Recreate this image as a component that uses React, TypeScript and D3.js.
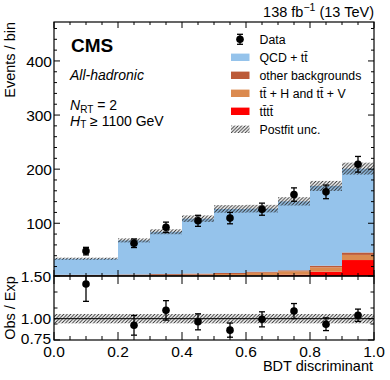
import React from 'react';
import * as d3 from 'd3';

// bin layout (variable width first bin)
const binEdges = [0, 0.2, 0.3, 0.4, 0.5, 0.6, 0.7, 0.8, 0.9, 1.0];
const dataX = [0.1, 0.25, 0.35, 0.45, 0.55, 0.65, 0.75, 0.85, 0.95];

// observed events and their errors
const dataCounts = [48.5, 63, 92.5, 104.5, 109.5, 126, 153, 158, 209];
const dataErrors = [7.0, 7.9, 9.6, 10.2, 10.5, 11.2, 12.4, 12.6, 14.5];

// postfit stack components
const qcdTT = [29.8, 63.0, 78.3, 101.5, 118.4, 116.5, 127.5, 147.5, 155];
const otherBkg = [1.4, 1.5, 1.6, 1.8, 1.9, 1.9, 1.8, 3.0, 4.5];
const ttHV = [3.0, 3.4, 3.8, 4.3, 4.8, 5.6, 6.3, 8.0, 9.5];
const tttt = [0.3, 0.4, 0.6, 0.9, 1.4, 3.0, 4.9, 10.5, 32];
const postfitUnc = [1.9, 3.7, 4.6, 6.0, 7.0, 7.0, 7.7, 9.3, 11];

const xTicks = [0, 0.2, 0.4, 0.6, 0.8, 1.0];
const yTicksMain = [100, 200, 300, 400];
const yTicksRatio = [0.75, 1.0, 1.5];
const yMinorRatio = [0.9375, 1.125, 1.3125];

const legendItems = [
  { key: 'data', label: 'Data' },
  { key: 'qcd', label: 'QCD + tt\u0304', color: '#95c3eb' },
  { key: 'other', label: 'other backgrounds', color: '#bc5a38' },
  { key: 'tthv', label: 'tt\u0304 + H and tt\u0304 + V', color: '#db8a4f' },
  { key: 'tttt', label: 'tt\u0304tt\u0304', color: '#ff0000' },
  { key: 'unc', label: 'Postfit unc.' },
];

const FONT = "'Liberation Sans', Arial, Helvetica, sans-serif";
const W = 390, H = 380;
const L = 54, R = 374;
const mainTop = 22, mainBottom = 276, ratioBottom = 340;

export default function App() {
  const x = d3.scaleLinear().domain([0, 1]).range([L, R]);
  const y = d3.scaleLinear().domain([2.5, 472]).range([mainBottom, mainTop]);
  const yr = d3.scaleLinear().domain([0.75, 1.5]).range([ratioBottom, mainBottom]);

  const colors: Record<string, string> = {
    tttt: '#ff0000', tthv: '#db8a4f', other: '#bc5a38', qcd: '#95c3eb',
  };

  const bins = binEdges.slice(0, -1).map((e, i) => ({
    x0: e, x1: binEdges[i + 1],
    tttt: tttt[i], tthv: ttHV[i], other: otherBkg[i], qcd: qcdTT[i],
  }));
  const stack = d3.stack<any>().keys(['tttt', 'tthv', 'other', 'qcd'])(bins);
  const totals = bins.map(b => b.tttt + b.tthv + b.other + b.qcd);

  const minorX = d3.range(0, 1.0001, 0.05);
  const minorYMain = d3.range(20, 472, 20);

  const tick = (x1: number, y1: number, x2: number, y2: number, k: string) => (
    <line key={k} x1={x1} y1={y1} x2={x2} y2={y2} stroke="#000" strokeWidth={1} />
  );

  const errBar = (cx: number, cy: number, lo: number, hi: number, k: string) => (
    <g key={k}>
      <line x1={cx} x2={cx} y1={lo} y2={hi} stroke="#000" strokeWidth={1.3} />
      <line x1={cx - 3} x2={cx + 3} y1={lo} y2={lo} stroke="#000" strokeWidth={1.3} />
      <line x1={cx - 3} x2={cx + 3} y1={hi} y2={hi} stroke="#000" strokeWidth={1.3} />
      <circle cx={cx} cy={cy} r={3.8} fill="#000" />
    </g>
  );

  const legRow = 18, legY0 = 39.3;

  return (
    <svg width={W} height={H} style={{ position: 'absolute', left: 0, top: 0, background: '#fff' }}
      fontFamily={FONT}>
      <defs>
        <pattern id="hatch" patternUnits="userSpaceOnUse" width={3.5} height={3.5}>
          <path d="M-1,1 l2,-2 M0,3.5 l3.5,-3.5 M2.5,4.5 l2,-2" stroke="#2a2a2a" strokeWidth={0.95} />
        </pattern>
        <clipPath id="clipMain"><rect x={L} y={mainTop} width={R - L} height={mainBottom - mainTop} /></clipPath>
        <clipPath id="clipRatio"><rect x={L} y={mainBottom} width={R - L} height={ratioBottom - mainBottom} /></clipPath>
      </defs>

      {/* main panel stack */}
      <g clipPath="url(#clipMain)">
        {stack.map(layer => layer.map((d, i) => (
          <rect key={layer.key + i} x={x(bins[i].x0)} width={x(bins[i].x1) - x(bins[i].x0)}
            y={y(d[1])} height={Math.max(0, y(d[0]) - y(d[1]))} fill={colors[layer.key]} />
        )))}
        {bins.map((b, i) => (
          <rect key={'u' + i} x={x(b.x0)} width={x(b.x1) - x(b.x0)}
            y={y(totals[i] + postfitUnc[i])} height={y(totals[i] - postfitUnc[i]) - y(totals[i] + postfitUnc[i])}
            fill="url(#hatch)" />
        ))}
        {dataX.map((dx, i) => errBar(x(dx), y(dataCounts[i]),
          y(dataCounts[i] - dataErrors[i]), y(dataCounts[i] + dataErrors[i]), 'd' + i))}
      </g>

      {/* ratio panel */}
      <g clipPath="url(#clipRatio)">
        {bins.map((b, i) => {
          const u = postfitUnc[i] / totals[i];
          return (
            <rect key={'ru' + i} x={x(b.x0)} width={x(b.x1) - x(b.x0)}
              y={yr(1 + u)} height={yr(1 - u) - yr(1 + u)} fill="url(#hatch)" />
          );
        })}
        <line x1={L} x2={R} y1={yr(1)} y2={yr(1)} stroke="#000" strokeWidth={1} />
        {dataX.map((dx, i) => {
          const r = dataCounts[i] / totals[i];
          const e = dataErrors[i] / totals[i];
          return errBar(x(dx), yr(r), yr(r - e), yr(r + e), 'r' + i);
        })}
      </g>

      {/* frames */}
      <rect x={L} y={mainTop} width={R - L} height={mainBottom - mainTop} fill="none" stroke="#000" strokeWidth={1.2} />
      <rect x={L} y={mainBottom} width={R - L} height={ratioBottom - mainBottom} fill="none" stroke="#000" strokeWidth={1.2} />

      {/* x ticks */}
      {minorX.map((v, i) => {
        const major = Math.abs(v * 5 - Math.round(v * 5)) < 1e-6;
        const px = x(v);
        const lm = major ? 6 : 3;
        const lr = major ? 8 : 4;
        return (
          <g key={'xt' + i}>
            {tick(px, mainTop, px, mainTop + lm, 'a')}
            {tick(px, mainBottom, px, mainBottom - lm, 'b')}
            {tick(px, mainBottom, px, mainBottom + lr, 'c')}
            {tick(px, ratioBottom, px, ratioBottom - lr, 'd')}
          </g>
        );
      })}

      {/* main y ticks */}
      {minorYMain.map((v, i) => {
        const major = v % 100 === 0;
        const py = y(v);
        const l = major ? 6 : 3;
        return (
          <g key={'yt' + i}>
            {tick(L, py, L + l, py, 'a')}
            {tick(R, py, R - l, py, 'b')}
          </g>
        );
      })}
      {yTicksMain.map(v => (
        <text key={'yl' + v} x={L - 2} y={y(v)} dy="0.36em" textAnchor="end" fontSize={15.5}>{v}</text>
      ))}

      {/* ratio y ticks */}
      {yTicksRatio.map(v => (
        <g key={'ryt' + v}>
          {tick(L, yr(v), L + 6, yr(v), 'a')}
          {tick(R, yr(v), R - 6, yr(v), 'b')}
          <text x={L - 3} y={yr(v) - (v === 0.75 ? 1.5 : 0)} dy="0.36em" textAnchor="end" fontSize={15.5}>{d3.format('.2f')(v)}</text>
        </g>
      ))}
      {yMinorRatio.map(v => (
        <g key={'rym' + v}>
          {tick(L, yr(v), L + 3.5, yr(v), 'a')}
          {tick(R, yr(v), R - 3.5, yr(v), 'b')}
        </g>
      ))}

      {/* x labels */}
      {xTicks.map(v => (
        <text key={'xl' + v} x={x(v)} y={356.5} textAnchor="middle" fontSize={15.5}>{d3.format('.1f')(v)}</text>
      ))}
      <text x={R - 1} y={371} textAnchor="end" fontSize={14.5}>BDT discriminant</text>

      {/* axis titles */}
      <text transform={`translate(15,${mainTop}) rotate(-90)`} textAnchor="end" fontSize={14.5}>Events / bin</text>
      <text transform={`translate(15,${(mainBottom + ratioBottom) / 2}) rotate(-90)`} textAnchor="middle" fontSize={14.5}>Obs / Exp</text>

      {/* header */}
      <text x={R} y={16.5} textAnchor="end" fontSize={14.5}>
        138 fb<tspan dy={-5.5} fontSize={10.5}>{'\u22121'}</tspan><tspan dy={5.5}> (13 TeV)</tspan>
      </text>
      <text x={71} y={51.7} fontSize={19} fontWeight="bold">CMS</text>
      <text x={70} y={79.5} fontSize={14} fontStyle="italic">All-hadronic</text>
      <text x={70} y={110} fontSize={14}>
        <tspan fontStyle="italic">N</tspan><tspan fontSize={10} dy={2.5}>RT</tspan><tspan dy={-2.5}> = 2</tspan>
      </text>
      <text x={70} y={125.5} fontSize={14}>
        <tspan fontStyle="italic">H</tspan><tspan fontSize={10} dy={2.5}>T</tspan><tspan dy={-2.5}>{' \u2265 1100 GeV'}</tspan>
      </text>

      {/* legend */}
      {legendItems.map((it, i) => {
        const cy = legY0 + i * legRow;
        let sym: React.ReactNode;
        if (it.key === 'data') {
          sym = errBar(240, cy, cy + 5, cy - 5, 'ld');
        } else if (it.key === 'unc') {
          sym = <rect x={231} y={cy - 3.7} width={18.5} height={7.4} fill="url(#hatch)" />;
        } else {
          sym = <rect x={231} y={cy - 3.7} width={18.5} height={7.4} fill={it.color} />;
        }
        return (
          <g key={'leg' + it.key}>
            {sym}
            <text x={259.5} y={cy} dy="0.36em" fontSize={12.3}>{it.label}</text>
          </g>
        );
      })}
    </svg>
  );
}
